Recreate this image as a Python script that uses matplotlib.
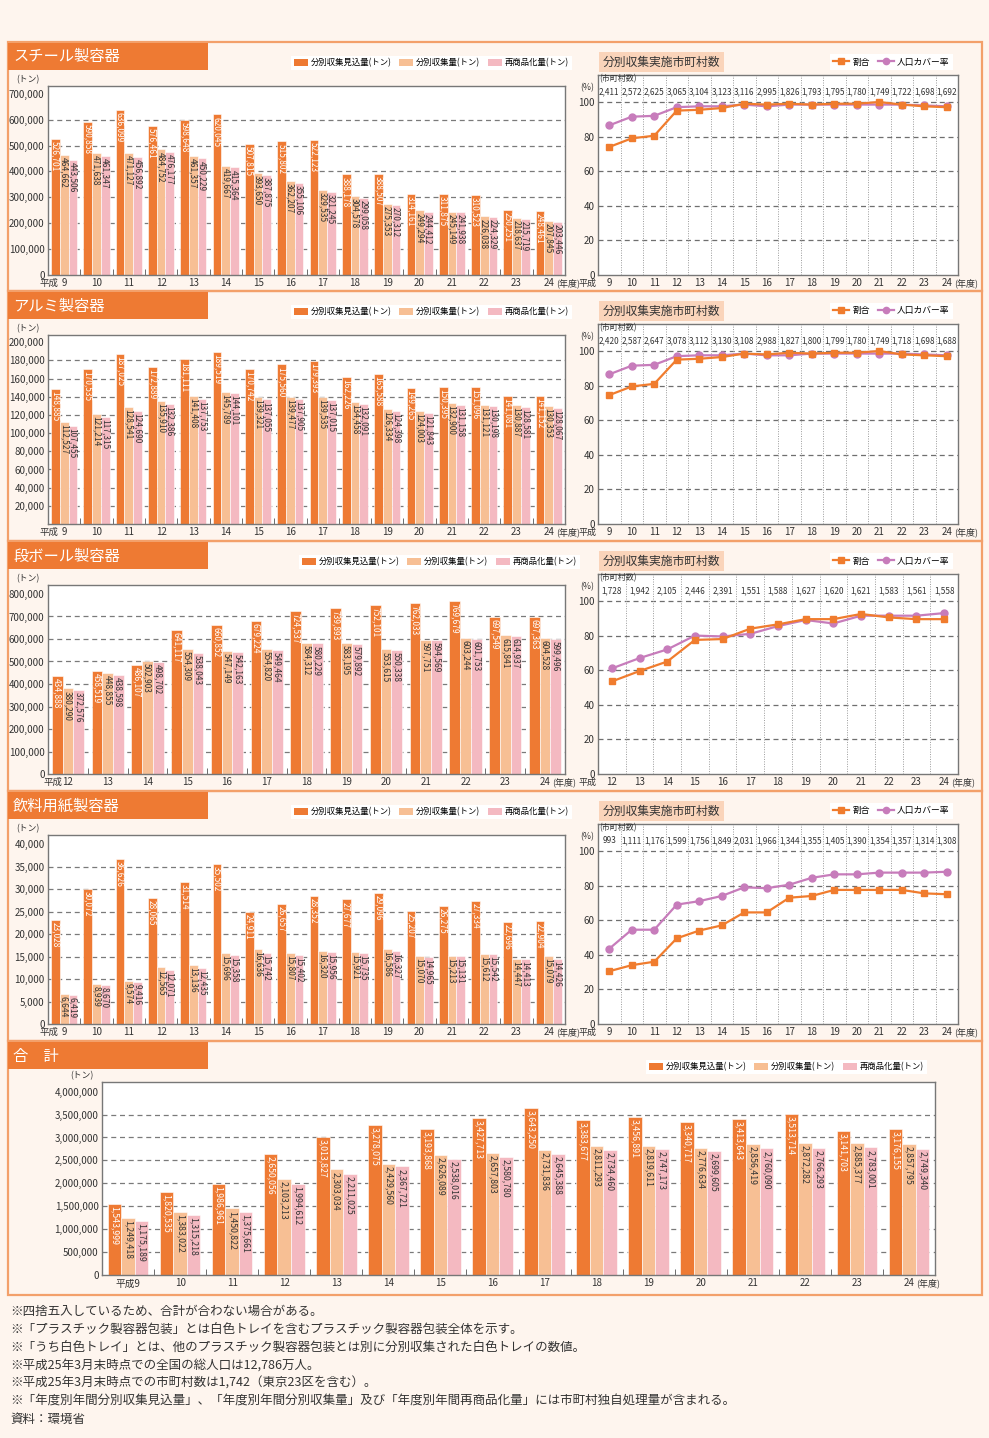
import matplotlib
matplotlib.use("Agg")
import matplotlib.pyplot as plt
import numpy as np
from matplotlib.patches import Patch, Rectangle
from matplotlib.lines import Line2D

plt.rcParams["font.family"] = ["Noto Sans CJK JP", "DejaVu Sans"]

# ---- data -------------------------------------------------------------
years_9 = [str(y) for y in range(9, 25)]
years_12 = [str(y) for y in range(12, 25)]

steel_expected = [526701, 590858, 636099, 576461, 598648, 620045, 507815, 515802,
                  522123, 388178, 388507, 314161, 311875, 310523, 250251, 248461]
steel_collected = [464662, 471638, 471127, 484752, 461357, 419667, 393650, 362207,
                   329535, 304578, 275353, 249294, 245149, 226038, 218637, 207845]
steel_recycled = [443506, 461347, 456892, 476177, 450229, 415364, 387875, 355106,
                  321245, 299058, 270312, 244412, 241938, 224329, 215719, 203446]
steel_munis = [2411, 2572, 2625, 3065, 3104, 3123, 3116, 2995,
               1826, 1793, 1795, 1780, 1749, 1722, 1698, 1692]
steel_ratio = [74, 79, 80.5, 95, 95.5, 96.5, 99, 98.5, 99, 98.5, 99, 99, 100, 98.5, 97.5, 97]
steel_cover = [86.5, 91.5, 92, 97, 97.5, 97.5, 98.5, 97.5, 98.5, 98.5, 98.5, 98.5, 98.5, 98.5, 98, 97.5]

alu_expected = [148885, 170535, 187025, 172889, 181111, 189519, 170742, 175560,
                179393, 162226, 165588, 149265, 150395, 151096, 141081, 141152]
alu_collected = [112527, 121214, 128541, 135910, 141408, 145789, 139321, 139477,
                 139535, 134458, 126334, 124003, 132900, 131121, 130887, 130353]
alu_recycled = [107455, 117315, 124690, 132386, 137753, 144101, 137055, 137905,
                137015, 132091, 124398, 121843, 131158, 130198, 128581, 128067]
alu_munis = [2420, 2587, 2647, 3078, 3112, 3130, 3108, 2988,
             1827, 1800, 1799, 1780, 1749, 1718, 1698, 1688]
alu_ratio = [74.5, 79.5, 81, 95, 95.5, 96.5, 98.5, 98, 99, 98.5, 99, 99, 100, 98, 97.5, 97]
alu_cover = [86.5, 91.5, 92, 97, 97.5, 97.5, 98.5, 97.5, 97.5, 98.5, 98.5, 98.5, 98.5, 98.5, 98, 97.5]

card_expected = [434888, 458519, 486107, 641117, 660852, 679224, 724537,
                 739893, 752101, 762033, 769679, 697549, 697363]
card_collected = [380290, 448855, 502903, 554309, 547149, 554820, 584312,
                  583195, 553615, 597751, 603244, 615841, 604528]
card_recycled = [372576, 438598, 498702, 538043, 542163, 549464, 580229,
                 579892, 550338, 594569, 601753, 614937, 599496]
card_munis = [1728, 1942, 2105, 2446, 2391, 1551, 1588, 1627, 1620, 1621, 1583, 1561, 1558]
card_ratio = [53.5, 59.5, 65, 77.5, 78, 84, 86.5, 89.5, 89.5, 92.5, 90.5, 89.5, 89.5]
card_cover = [61, 67, 72, 80, 79.5, 81, 85.5, 89, 87, 91.5, 91.5, 91.5, 93]

paper_expected = [23028, 30072, 36626, 28065, 31514, 35502, 24911, 26657,
                  28352, 27677, 29096, 25207, 26275, 27334, 22696, 22904]
paper_collected = [6644, 8939, 9574, 12565, 13136, 15696, 16636, 15807,
                   16320, 15921, 16586, 15070, 15213, 15612, 14447, 15079]
paper_recycled = [6419, 8670, 9416, 12071, 12435, 15358, 15742, 15402,
                  15956, 15735, 16327, 14965, 15131, 15542, 14413, 14426]
paper_munis = [993, 1111, 1176, 1599, 1756, 1849, 2031, 1966,
               1344, 1355, 1405, 1390, 1354, 1357, 1314, 1308]
paper_ratio = [30.5, 34, 36, 49.5, 54, 57, 64.5, 64.5, 73, 74, 77.5, 77.5, 77.5, 77.5, 75.5, 75]
paper_cover = [43.5, 54.5, 54.5, 69, 71, 74, 79, 78.5, 80.5, 84.5, 86.5, 86.5, 87.5, 87.5, 87.5, 88]

total_labels = ["平成9"] + [str(y) for y in range(10, 25)]
total_expected = [1543999, 1820535, 1986961, 2650056, 3013827, 3278075, 3193868, 3427713,
                  3643250, 3383677, 3456891, 3340717, 3413643, 3513714, 3141703, 3176155]
total_collected = [1249418, 1383022, 1450822, 2103213, 2303034, 2429560, 2626089, 2657803,
                   2731836, 2811293, 2819611, 2776634, 2856419, 2872282, 2885377, 2857795]
total_recycled = [1175189, 1315218, 1375661, 1994612, 2211025, 2367721, 2538016, 2580780,
                  2645388, 2734460, 2747173, 2699605, 2760090, 2766293, 2783001, 2749340]

bar_names = ["分別収集見込量(トン)", "分別収集量(トン)", "再商品化量(トン)"]
line_names = ["割合", "人口カバー率"]

notes = [
    "※四捨五入しているため、合計が合わない場合がある。",
    "※「プラスチック製容器包装」とは白色トレイを含むプラスチック製容器包装全体を示す。",
    "※「うち白色トレイ」とは、他のプラスチック製容器包装とは別に分別収集された白色トレイの数値。",
    "※平成25年3月末時点での全国の総人口は12,786万人。",
    "※平成25年3月末時点での市町村数は1,742（東京23区を含む）。",
    "※「年度別年間分別収集見込量」、「年度別年間分別収集量」及び「年度別年間再商品化量」には市町村独自処理量が含まれる。",
    "資料：環境省",
]

# ---- style ------------------------------------------------------------
BG = "#FEF5EE"
C_EXP = "#EE7A33"
C_COL = "#F7BF94"
C_REC = "#F4B9C1"
C_RATIO = "#F07C2E"
C_COVER = "#C77CBB"
C_FRAME = "#F3A06A"
TXT = "#333333"

W, H = 989, 1438
fig = plt.figure(figsize=(W / 100, H / 100), dpi=100, facecolor=BG)


def fx(x):
    return x / W


def fy(y):
    return 1 - y / H


def px_axes(left, top, right, bottom):
    return fig.add_axes([left / W, 1 - bottom / H, (right - left) / W, (bottom - top) / H])


def section(top, bottom, title):
    fig.add_artist(Rectangle((fx(8), fy(bottom)), 974 / W, (bottom - top) / H,
                             transform=fig.transFigure, fc="none", ec=C_FRAME, lw=1.6))
    fig.add_artist(Rectangle((fx(8), fy(top + 28)), 200 / W, 27 / H,
                             transform=fig.transFigure, fc=C_EXP, ec="none"))
    fig.text(fx(13), fy(top + 15), title, color="white", fontsize=11, va="center", ha="left")


def style_frame(ax):
    ax.set_facecolor("white")
    for s in ax.spines.values():
        s.set_color("#777777")
        s.set_linewidth(1.0)


def bar_legend(right, ycen):
    handles = [Patch(fc=C_EXP), Patch(fc=C_COL), Patch(fc=C_REC)]
    fig.legend(handles, bar_names, loc="center right", bbox_to_anchor=(fx(right), fy(ycen)),
               ncol=3, fontsize=6, frameon=True, facecolor="white", edgecolor="none",
               framealpha=1, fancybox=False, borderpad=0.35, handlelength=1.7,
               handleheight=0.8, handletextpad=0.35, columnspacing=0.9)


def bar_panel(ax, labels, exp, col, rec, ymax, yticks, label_size=6.0, w=0.27,
              prefix=True):
    style_frame(ax)
    x = np.arange(len(labels))
    for y in yticks:
        if 0 < y < max(yticks):
            ax.axhline(y, color="#7a7a7a", lw=0.9, ls=(0, (4, 3)), zorder=0)
    for off, vals, color, tcol in [(-w, exp, C_EXP, "white"), (0, col, C_COL, TXT),
                                   (w, rec, C_REC, TXT)]:
        ax.bar(x + off, vals, width=w, color=color, edgecolor="white", linewidth=0.4, zorder=2)
        for xi, v in zip(x + off, vals):
            ax.annotate(f"{v:,}", (xi, v), xytext=(0, -1.5), textcoords="offset points",
                        rotation=-90, ha="center", va="top", fontsize=label_size,
                        color=tcol, zorder=3)
    ax.set_xlim(-0.5, len(labels) - 0.5)
    ax.set_ylim(0, ymax)
    ax.set_yticks(yticks)
    ax.set_yticklabels([f"{t:,}" for t in yticks])
    ax.set_xticks(x)
    ax.set_xticklabels(labels)
    ax.set_xticks(np.arange(0.5, len(labels) - 1), minor=True)
    ax.tick_params(axis="both", which="major", length=0, labelsize=7, colors=TXT, pad=2.5)
    ax.tick_params(axis="x", which="minor", direction="in", length=4, color="#555555")
    ax.annotate("(トン)", (0, 1), xycoords="axes fraction", xytext=(-6, 1),
                textcoords="offset points", ha="right", va="bottom", fontsize=6.3, color=TXT)
    if prefix:
        ax.annotate("平成", (0, 0), xycoords=("data", "axes fraction"), xytext=(-4, -2.5),
                    textcoords="offset points", ha="right", va="top", fontsize=6.8, color=TXT)
    ax.annotate("(年度)", (len(labels) - 1, 0), xycoords=("data", "axes fraction"),
                xytext=(5, -2.5), textcoords="offset points", ha="left", va="top",
                fontsize=6.5, color=TXT)


def line_panel(top, labels, ratio, cover, munis):
    ax = px_axes(598, top + 33, 958, top + 233)
    style_frame(ax)
    n = len(labels)
    x = np.arange(n)
    ax.set_xlim(-0.5, n - 0.5)
    ax.set_ylim(0, 115.6)
    for y in range(20, 101, 20):
        ax.axhline(y, color="#6f6f6f", lw=0.9, ls=(0, (4, 3)), zorder=1)
    for b in np.arange(0.5, n - 1):
        ax.axvline(b, color="#9a9a9a", lw=0.7, ls=(0, (1, 1.5)), zorder=1)
    ax.plot(x, cover, color=C_COVER, marker="o", ms=5, lw=1.6, zorder=3)
    ax.plot(x, ratio, color=C_RATIO, marker="s", ms=5, lw=1.6, zorder=4)
    for xi, m in zip(x, munis):
        ax.text(xi, 105.8, f"{m:,}", ha="center", va="center", fontsize=5.9, color=TXT)
    ax.text(-0.45, 113.2, "(市町村数)", ha="left", va="center", fontsize=5.8, color=TXT)
    ax.set_yticks(range(0, 101, 20))
    ax.set_xticks(x)
    ax.set_xticklabels(labels)
    ax.tick_params(axis="both", length=0, labelsize=7, colors=TXT, pad=2.5)
    ax.annotate("平成", (-0.5, 0), xycoords=("data", "axes fraction"), xytext=(-1, -2.5),
                textcoords="offset points", ha="right", va="top", fontsize=6.5, color=TXT)
    ax.annotate("(年度)", (n - 1, 0), xycoords=("data", "axes fraction"), xytext=(5, -2.5),
                textcoords="offset points", ha="left", va="top", fontsize=6.5, color=TXT)
    fig.text(fx(587), fy(top + 46), "(%)", ha="center", va="center", fontsize=6.3, color=TXT)
    fig.text(fx(603), fy(top + 20), "分別収集実施市町村数", ha="left", va="center",
             fontsize=8.5, color=TXT,
             bbox=dict(boxstyle="square,pad=0.3", fc="#FAD4BA", ec="none"))
    handles = [Line2D([], [], color=C_RATIO, marker="s", ms=4.5, lw=1.6),
               Line2D([], [], color=C_COVER, marker="o", ms=4.5, lw=1.6)]
    fig.legend(handles, line_names, loc="center right", bbox_to_anchor=(fx(957), fy(top + 20)),
               ncol=2, fontsize=6.3, frameon=True, facecolor="white", edgecolor="none",
               framealpha=1, fancybox=False, borderpad=0.35, handlelength=1.8,
               handletextpad=0.4, columnspacing=0.9)
    return ax


panels = [
    (42, 291, "スチール製容器", years_9, steel_expected, steel_collected, steel_recycled,
     730000, list(range(0, 700001, 100000)), steel_ratio, steel_cover, steel_munis),
    (291, 541, "アルミ製容器", years_9, alu_expected, alu_collected, alu_recycled,
     208000, list(range(20000, 200001, 20000)), alu_ratio, alu_cover, alu_munis),
    (541, 791, "段ボール製容器", years_12, card_expected, card_collected, card_recycled,
     840000, list(range(0, 800001, 100000)), card_ratio, card_cover, card_munis),
    (791, 1041, "飲料用紙製容器", years_9, paper_expected, paper_collected, paper_recycled,
     42000, list(range(0, 40001, 5000)), paper_ratio, paper_cover, paper_munis),
]

for top, bottom, title, labels, e, c, r, ymax, yt, ratio, cover, munis in panels:
    section(top, bottom, title)
    ax = px_axes(48, top + 44, 565, top + 233)
    bar_panel(ax, labels, e, c, r, ymax, yt)
    bar_legend(576 if labels is years_9 else 584, top + 21)
    line_panel(top, labels, ratio, cover, munis)

# ---- total ------------------------------------------------------------
section(1041, 1295, "合　計")
axt = px_axes(102, 1082, 935, 1275)
bar_panel(axt, total_labels, total_expected, total_collected, total_recycled,
          4210000, list(range(0, 4000001, 500000)), label_size=6.3, w=0.26, prefix=False)
bar_legend(931, 1067)

for i, line in enumerate(notes):
    fig.text(fx(10), fy(1311 + i * 18), line, ha="left", va="center", fontsize=9, color=TXT)

fig.savefig("out.png", dpi=100, facecolor=BG)
